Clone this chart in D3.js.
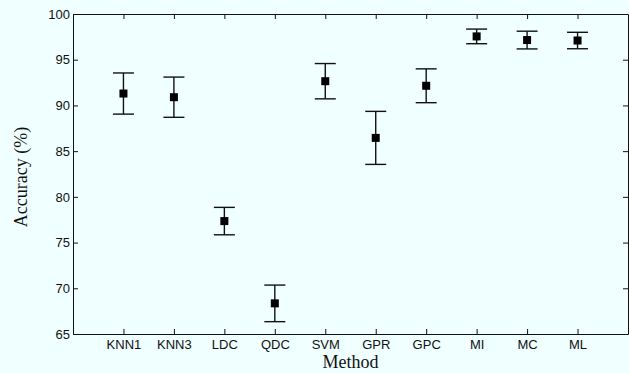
<!DOCTYPE html>
<html>
<head>
<meta charset="utf-8">
<script src="https://cdn.jsdelivr.net/npm/d3@7"></script>
<style>
  html, body { margin: 0; padding: 0; background: #f0ffff; }
  svg { display: block; }
</style>
</head>
<body>
<svg id="chart" width="629" height="373"></svg>
<script>
const categories = ["KNN1", "KNN3", "LDC", "QDC", "SVM", "GPR", "GPC", "MI", "MC", "ML"];
const means = [91.3, 90.9, 77.35, 68.35, 92.65, 86.45, 92.15, 97.55, 97.15, 97.1];
const errors = [2.25, 2.2, 1.5, 2.0, 1.93, 2.9, 1.85, 0.8, 0.97, 0.9];
const yTicks = [65, 70, 75, 80, 85, 90, 95, 100];

const W = 629, H = 373;
const m = { left: 73, right: 1, top: 14, bottom: 39 };
const svg = d3.select("#chart");
svg.append("rect").attr("width", W).attr("height", H).attr("fill", "#f0ffff");

const x = d3.scaleLinear().domain([0, categories.length + 1]).range([m.left, W - m.right]);
const y = d3.scaleLinear().domain([65, 100]).range([H - m.bottom, m.top]);

const fontSans = "Liberation Sans, Arial, Helvetica, sans-serif";
const fontSerif = "Liberation Serif, Times New Roman, serif";
const tickIdx = categories.map((d, i) => i + 1);

// Bottom axis
const gx = svg.append("g").attr("transform", `translate(0,${y(65)})`)
  .call(d3.axisBottom(x).tickValues(tickIdx).tickFormat(i => categories[i - 1]).tickSizeInner(-5).tickSizeOuter(0).tickPadding(6));
// Top axis
const gxt = svg.append("g").attr("transform", `translate(0,${y(100)})`)
  .call(d3.axisTop(x).tickValues(tickIdx).tickFormat("").tickSizeInner(-5).tickSizeOuter(0));
// Left axis
const gy = svg.append("g").attr("transform", `translate(${x(0)},0)`)
  .call(d3.axisLeft(y).tickValues(yTicks).tickSizeInner(-5).tickSizeOuter(0).tickPadding(3));
// Right axis
const gyr = svg.append("g").attr("transform", `translate(${x(categories.length + 1)},0)`)
  .call(d3.axisRight(y).tickValues(yTicks).tickFormat("").tickSizeInner(-5).tickSizeOuter(0));

[gx, gxt, gy, gyr].forEach(g => {
  g.select(".domain").attr("stroke", "#111").attr("stroke-width", 1);
  g.selectAll(".tick line").attr("stroke", "#111").attr("stroke-width", 1);
  g.selectAll("text").attr("font-family", fontSans).attr("font-size", 13).attr("fill", "#111");
});
gx.selectAll("text").attr("dy", "0.71em");

// Error bars
const capHalf = 10.5;
const eb = svg.append("g").attr("stroke", "#111").attr("stroke-width", 1.4).attr("fill", "none");
categories.forEach((c, i) => {
  const cx = x(i + 1);
  eb.append("line").attr("x1", cx).attr("x2", cx).attr("y1", y(means[i] - errors[i])).attr("y2", y(means[i] + errors[i]));
  eb.append("line").attr("x1", cx - capHalf).attr("x2", cx + capHalf).attr("y1", y(means[i] + errors[i])).attr("y2", y(means[i] + errors[i]));
  eb.append("line").attr("x1", cx - capHalf).attr("x2", cx + capHalf).attr("y1", y(means[i] - errors[i])).attr("y2", y(means[i] - errors[i]));
});

// Markers
const ms = 8;
svg.append("g").selectAll("rect").data(means).join("rect")
  .attr("x", (d, i) => x(i + 1) - ms / 2)
  .attr("y", d => y(d) - ms / 2)
  .attr("width", ms).attr("height", ms)
  .attr("fill", "#000");

// Axis labels
svg.append("text").attr("x", (x(0) + x(categories.length + 1)) / 2).attr("y", 368)
  .attr("text-anchor", "middle").attr("font-family", fontSerif).attr("font-size", 18).attr("fill", "#111")
  .text("Method");
svg.append("text").attr("transform", `translate(27,${(y(65) + y(100)) / 2 + 3}) rotate(-90)`)
  .attr("text-anchor", "middle").attr("font-family", fontSerif).attr("font-size", 18).attr("fill", "#111")
  .text("Accuracy (%)");
</script>
</body>
</html>
